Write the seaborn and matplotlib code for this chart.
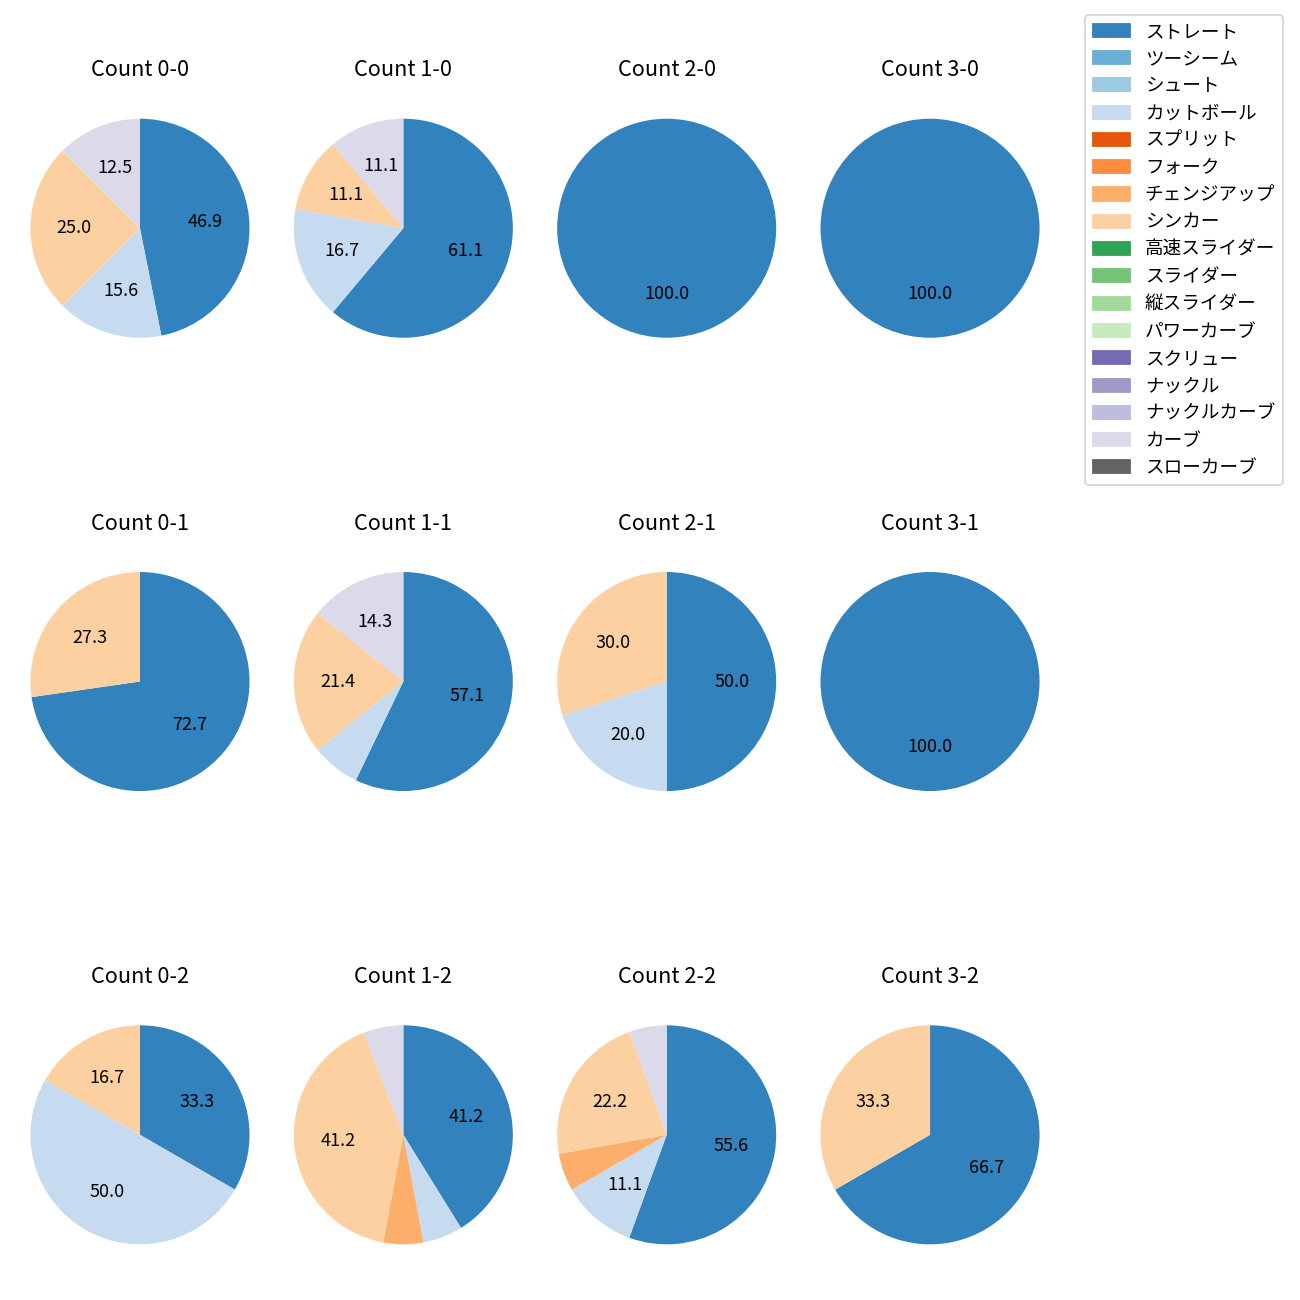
import matplotlib
matplotlib.use('Agg')
import matplotlib.pyplot as plt
import matplotlib.patches as mpatches
import seaborn as sns

plt.rcParams['font.family'] = ['Noto Sans CJK JP', 'DejaVu Sans']

pitch_types = ['ストレート', 'ツーシーム', 'シュート', 'カットボール', 'スプリット',
               'フォーク', 'チェンジアップ', 'シンカー', '高速スライダー', 'スライダー',
               '縦スライダー', 'パワーカーブ', 'スクリュー', 'ナックル', 'ナックルカーブ',
               'カーブ', 'スローカーブ']
palette = sns.color_palette('tab20c', len(pitch_types))

# counts in order: strikes 0 (balls 0..3), strikes 1, strikes 2
count_labels = ['0-0', '1-0', '2-0', '3-0',
                '0-1', '1-1', '2-1', '3-1',
                '0-2', '1-2', '2-2', '3-2']
straight = [15, 11, 1, 1, 8, 8, 5, 1, 2, 7, 10, 2]
cutter   = [5, 3, 0, 0, 0, 1, 2, 0, 3, 1, 2, 0]
changeup = [0, 0, 0, 0, 0, 0, 0, 0, 0, 1, 1, 0]
sinker   = [8, 2, 0, 0, 3, 3, 3, 0, 1, 7, 4, 1]
curve    = [4, 2, 0, 0, 0, 2, 0, 0, 0, 1, 1, 0]

series = {'ストレート': straight, 'カットボール': cutter, 'チェンジアップ': changeup,
          'シンカー': sinker, 'カーブ': curve}
color_of = dict(zip(pitch_types, palette))

fig, axes = plt.subplots(3, 4, figsize=(10, 10))
fig.subplots_adjust(left=0.0064, right=0.8167, top=0.9330, bottom=0.0185,
                    wspace=0.0, hspace=0.606)

for i, label in enumerate(count_labels):
    ax = axes.flat[i]
    names = [n for n in pitch_types if n in series and series[n][i] > 0]
    vals = [series[n][i] for n in names]
    ax.pie(vals, colors=[color_of[n] for n in names], startangle=90,
           counterclock=False, radius=0.97,
           autopct=lambda p: f'{p:.1f}' if p >= 10 else '')
    ax.set_aspect('equal', adjustable='datalim')
    ax.set_title(f'Count {label}', fontsize=12)

handles = [mpatches.Patch(color=c) for c in palette]
fig.legend(handles, pitch_types, loc='upper right', fontsize=10.3,
           bbox_to_anchor=(0.9938, 0.9954))

fig.savefig('out.png', dpi=130)
